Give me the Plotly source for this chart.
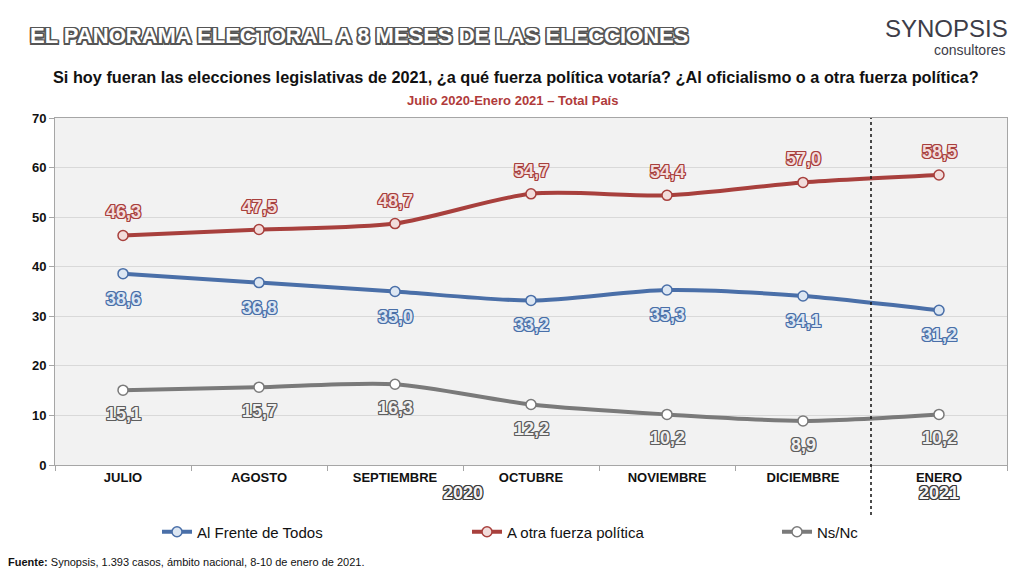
import plotly.graph_objects as go

# datos
meses = ["JULIO", "AGOSTO", "SEPTIEMBRE", "OCTUBRE", "NOVIEMBRE", "DICIEMBRE", "ENERO"]
frente_de_todos = [38.6, 36.8, 35.0, 33.2, 35.3, 34.1, 31.2]
otra_fuerza = [46.3, 47.5, 48.7, 54.7, 54.4, 57.0, 58.5]
ns_nc = [15.1, 15.7, 16.3, 12.2, 10.2, 8.9, 10.2]
anios = ["2020", "2021"]

BLUE = "#4a6fa8"
RED = "#a8403d"
GRAY = "#7a7a7a"

# la pagina tiene 8px de margen en el body -> figura de 1016x568
W, H = 1016, 568
L, R, T, B = 47, 17, 110, 111
pw, ph = W - L - R, H - T - B


def px(x, y):
    # pixel de la captura (desde arriba a la izquierda) -> coordenadas paper
    return (x - 8 - L) / pw, (H - (y - 8) - B) / ph


def outline(color, w=1):
    parts = []
    for dx in (-w, 0, w):
        for dy in (-w, 0, w):
            if dx or dy:
                parts.append(f"{dx}px {dy}px 0 {color}")
    return ", ".join(parts)


def fmt(v):
    return f"{v:.1f}".replace(".", ",")


def text_at(x, y, text, font, anchor="center"):
    xp, yp = px(x, y)
    return dict(x=xp, y=yp, xref="paper", yref="paper", text=text, showarrow=False,
                xanchor=anchor, yanchor="middle", font=font)


series = [
    ("Al Frente de Todos", frente_de_todos, BLUE, "#dce6f2", BLUE, -25),
    ("A otra fuerza política", otra_fuerza, RED, "#f2dcdb", RED, 23),
    ("Ns/Nc", ns_nc, GRAY, "#ffffff", "#5e5e5e", -24),
]

fig = go.Figure()
annotations = []
for name, vals, col, fill, edge, shift in series:
    fig.add_trace(go.Scatter(
        x=meses, y=vals, name=name, mode="lines+markers",
        line=dict(color=col, width=4, shape="spline", smoothing=0.8),
        marker=dict(size=10, color=fill, line=dict(color=col, width=1.5)),
        hovertemplate="%{x}: %{y}<extra>" + name + "</extra>",
    ))
    for m, v in zip(meses, vals):
        annotations.append(dict(
            x=m, y=v, text=fmt(v), showarrow=False, yshift=shift,
            font=dict(family="Liberation Sans", size=18, weight="bold",
                      color="#f0f0f0" if fill == "#ffffff" else fill,
                      shadow=outline(edge, 1)),
        ))

# anios bajo el eje
year_font = dict(family="Liberation Sans", size=18, weight="bold", color="#f5f5f5",
                 shadow=outline("#3a3a3a", 1))
annotations.append(dict(x=2.5, y=px(0, 505)[1], xref="x", yref="paper", text=anios[0],
                        showarrow=False, font=year_font))
annotations.append(dict(x=6, y=px(0, 505)[1], xref="x", yref="paper", text=anios[1],
                        showarrow=False, font=year_font))

# titulos
annotations += [
    text_at(28, 35, "EL PANORAMA ELECTORAL A 8 MESES DE LAS ELECCIONES",
            dict(family="Liberation Sans", size=22, weight="bold", color="#ffffff",
                 shadow=outline("#555555", 1.5)), anchor="left"),
    text_at(516, 77, "Si hoy fueran las elecciones legislativas de 2021, ¿a qué fuerza política votaría? ¿Al oficialismo o a otra fuerza política?",
            dict(family="Liberation Sans", size=16.3, weight="bold", color="#111111")),
    text_at(512, 100, "Julio 2020-Enero 2021 – Total País",
            dict(family="Liberation Sans", size=13, weight="bold", color="#b03a3a")),
    text_at(1010, 29, "SYNOPSIS",
            dict(family="Liberation Sans", size=24, color="#3d3d48"), anchor="right"),
    text_at(1008, 50, "consultores",
            dict(family="Liberation Sans", size=14, color="#3d3d48"), anchor="right"),
    text_at(6, 562, "<b>Fuente:</b> Synopsis, 1.393 casos, ámbito nacional, 8-10 de enero de 2021.",
            dict(family="Liberation Sans", size=11, color="#111111"), anchor="left"),
]

lx, ly = px(157, 532)
fig.update_layout(
    width=W, height=H,
    margin=dict(l=L, r=R, t=T, b=B, autoexpand=False),
    paper_bgcolor="white",
    plot_bgcolor="#f2f2f2",
    font=dict(family="Liberation Sans", color="#111111"),
    annotations=annotations,
    showlegend=True,
    legend=dict(orientation="h", x=lx, xanchor="left", y=ly, yanchor="middle",
                entrywidth=265, entrywidthmode="pixels", bgcolor="rgba(0,0,0,0)",
                font=dict(family="Liberation Sans", size=15, color="#111111")),
    shapes=[dict(type="line", xref="x", yref="paper", x0=5.5, x1=5.5, y0=px(0, 515)[1], y1=1,
                 line=dict(color="#111111", width=1.5, dash="dot"))],
)
fig.update_xaxes(
    type="category", range=[-0.5, len(meses) - 0.5],
    showline=True, linecolor="#a6a6a6", mirror=True,
    ticks="outside", tickson="boundaries", ticklen=5, tickcolor="#a6a6a6",
    showgrid=False,
    tickfont=dict(family="Liberation Sans", size=13, weight="bold", color="#111111"),
)
fig.update_yaxes(
    range=[0, 70], dtick=10, showline=True, linecolor="#a6a6a6", mirror=True,
    ticks="outside", ticklen=5, tickcolor="#a6a6a6",
    gridcolor="#d9d9d9", zeroline=False,
    tickfont=dict(family="Liberation Sans", size=13, weight="bold", color="#111111"),
)

fig.write_html("out.html")
